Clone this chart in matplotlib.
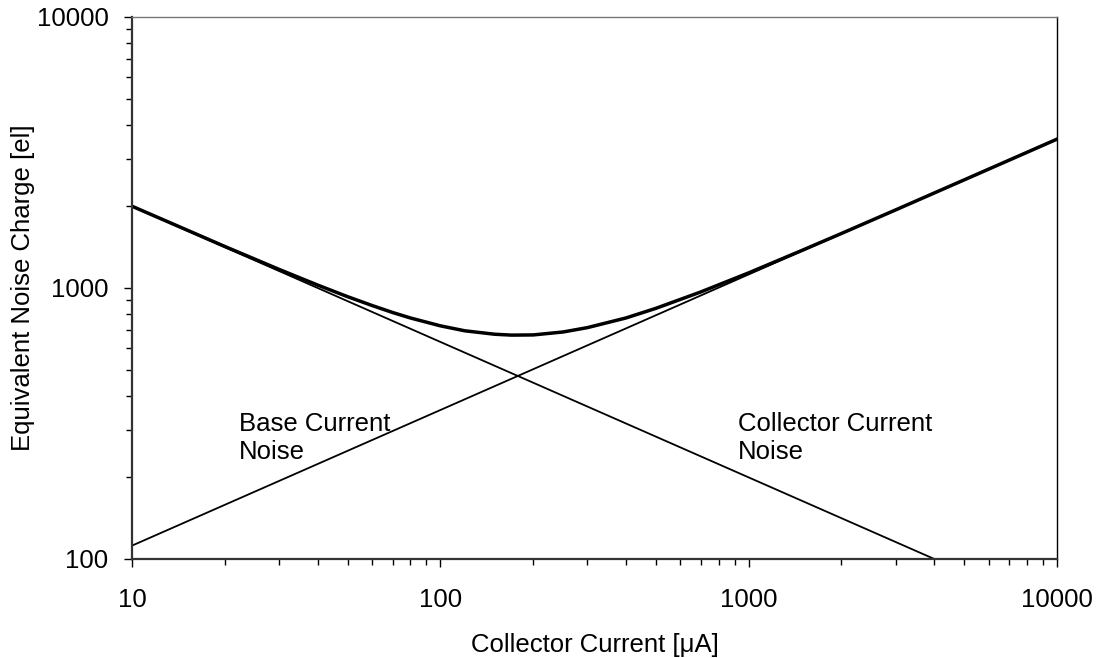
import matplotlib
matplotlib.use('Agg')
import matplotlib.pyplot as plt

plt.rcParams['font.family'] = ['Liberation Sans', 'DejaVu Sans']

# base current noise (straight line on log-log)
base_x = [10, 4000]
base_enc = [2000, 100]

# collector current noise
coll_x = [10, 10000]
coll_enc = [112, 3550]

# total noise
total_x = [10, 15, 20, 30, 40, 50, 60, 70, 80, 100, 120, 150, 170, 200, 250, 300,
           400, 500, 700, 1000, 1500, 2000, 3000, 5000, 7000, 10000]
total_enc = [2003, 1640, 1423, 1171, 1025, 929, 862, 812, 775, 725, 695, 675, 670, 671, 688, 714,
             775, 841, 967, 1137, 1381, 1589, 1942, 2505, 2963, 3541]

fig = plt.figure(figsize=(11.01, 6.58), dpi=100)
ax = fig.add_axes([0.1199, 0.1505, 0.8401, 0.8237])

ax.plot(base_x, base_enc, color='black', linewidth=1.3)
ax.plot(coll_x, coll_enc, color='black', linewidth=1.3)
ax.plot(total_x, total_enc, color='black', linewidth=2.5, solid_joinstyle='round')

ax.set_xscale('log')
ax.set_yscale('log')
ax.set_xlim(10, 10000)
ax.set_ylim(100, 10000)

ax.set_xticks([10, 100, 1000, 10000])
ax.set_xticklabels(['10', '100', '1000', '10000'])
ax.set_yticks([100, 1000, 10000])
ax.set_yticklabels(['100', '1000', '10000'])

ax.tick_params(axis='both', which='major', direction='out', length=6, width=1, labelsize=18.5, color='black')
ax.tick_params(axis='both', which='minor', direction='out', length=4.5, width=1, color='black')
ax.tick_params(axis='x', which='major', pad=15)
ax.tick_params(axis='y', which='major', pad=11)
ax.tick_params(top=False, right=False, which='both')

ax.spines['left'].set_linewidth(1.6)
ax.spines['left'].set_color('#333333')
ax.spines['bottom'].set_linewidth(1.6)
ax.spines['bottom'].set_color('#333333')
ax.spines['top'].set_linewidth(1.0)
ax.spines['top'].set_color('#777777')
ax.spines['right'].set_linewidth(1.0)
ax.spines['right'].set_color('black')

ax.set_xlabel('Collector Current [\u03bcA]', fontsize=18.5, labelpad=15)
ax.set_ylabel('Equivalent Noise Charge [el]', fontsize=18.5, labelpad=1)

ax.text(22.2, 348, 'Base Current\nNoise', fontsize=18.5, ha='left', va='top')
ax.text(925, 348, 'Collector Current\nNoise', fontsize=18.5, ha='left', va='top')

fig.savefig('out.png', dpi=100)
